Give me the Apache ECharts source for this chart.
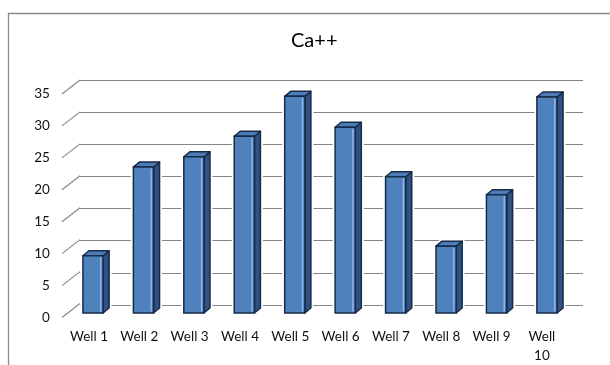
<!DOCTYPE html>
<html>
<head>
<meta charset="utf-8">
<script src="https://cdn.jsdelivr.net/npm/echarts@6/dist/echarts.min.js"></script>
<style>
  html, body { margin: 0; padding: 0; background: #ffffff; }
  #chart { width: 610px; height: 365px; }
</style>
</head>
<body>
<div id="chart"></div>
<script>
// Calcium concentration per well
const chartTitle = 'Ca++';
const categories = ['Well 1', 'Well 2', 'Well 3', 'Well 4', 'Well 5', 'Well 6', 'Well 7', 'Well 8', 'Well 9', 'Well 10'];
const calcium = [8.9, 22.7, 24.3, 27.5, 33.7, 28.9, 21.2, 10.4, 18.4, 33.6];
const yTicks = [0, 5, 10, 15, 20, 25, 30, 35];

const FONT = 'Lato, "Open Sans", sans-serif';
const TEXT = '#111111';
const GRID = '#858585';

// depth offsets of the 3D look
const WALL_DX = 18, WALL_DY = -14;   // front label plane -> back wall
const BOX_DX = 6, BOX_DY = -5;       // column depth

const chart = echarts.init(document.getElementById('chart'), null, { renderer: 'canvas' });

const option = {
  backgroundColor: '#ffffff',
  animation: false,
  title: {
    text: chartTitle,
    left: 291,
    top: 31,
    padding: 0,
    textStyle: { fontFamily: FONT, fontSize: 20, fontWeight: 'normal', color: '#000000' }
  },
  graphic: [{
    type: 'polyline',
    shape: { points: [[8.5, 365], [8.5, 13.5], [610, 13.5]] },
    style: { stroke: '#8a8a8a', lineWidth: 1.3, fill: null },
    silent: true
  }],
  grid: [
    // front plane: axis labels
    { left: 63.8, top: 94, width: 503.3, height: 225 },
    // back wall: gridlines
    { left: 80, top: 80, width: 503, height: 225 },
    // column plane
    { left: 67.8, top: 88, width: 504.4, height: 225 }
  ],
  xAxis: [
    {
      gridIndex: 0, type: 'category', data: categories,
      axisLine: { show: false }, axisTick: { show: false },
      axisLabel: {
        margin: 9.5, fontFamily: FONT, fontSize: 13.5, lineHeight: 19, color: TEXT,
        formatter: v => (v.length > 6 ? v.replace(' ', '\n') : v)
      }
    },
    { gridIndex: 1, type: 'category', data: categories, show: false },
    { gridIndex: 2, type: 'category', data: categories, show: false }
  ],
  yAxis: [
    {
      gridIndex: 0, type: 'value', min: 0, max: 35, interval: 5,
      axisLine: { show: false }, axisTick: { show: false }, splitLine: { show: false },
      axisLabel: { margin: 14, fontFamily: FONT, fontSize: 13.5, color: TEXT }
    },
    {
      gridIndex: 1, type: 'value', min: 0, max: 35, interval: 5,
      axisLine: { show: false }, axisTick: { show: false }, axisLabel: { show: false },
      splitLine: { show: true, lineStyle: { color: GRID, width: 1.2 } }
    },
    {
      gridIndex: 2, type: 'value', min: 0, max: 35, interval: 5, show: false,
      splitLine: { show: false }
    }
  ],
  series: [
    {
      // slanted side-wall ticks linking labels to the back gridlines
      type: 'custom',
      xAxisIndex: 0, yAxisIndex: 0,
      silent: true,
      data: yTicks.map(v => [0, v]),
      renderItem: (params, api) => {
        const p = api.coord([0, api.value(1)]);
        const x0 = params.coordSys.x - 1.8;
        return {
          type: 'line',
          shape: { x1: x0, y1: p[1], x2: x0 + WALL_DX, y2: p[1] + WALL_DY },
          style: { stroke: GRID, lineWidth: 1.1 }
        };
      }
    },
    {
      type: 'custom',
      xAxisIndex: 2, yAxisIndex: 2,
      data: calcium.map((v, i) => [i, v]),
      renderItem: (params, api) => {
        const base = api.coord([api.value(0), 0]);
        const top = api.coord([api.value(0), api.value(1)]);
        const w = api.size([1, 0])[0] * 0.4;
        const x0 = base[0] - w / 2, x1 = base[0] + w / 2;
        const yb = base[1], yt = top[1];
        const dx = BOX_DX, dy = BOX_DY;
        const edge = '#172b48';
        const lw = 1.5;
        return {
          type: 'group',
          children: [
            {
              type: 'polygon',
              shape: { points: [[x0, yb], [x0, yt], [x0 + dx, yt + dy], [x1 + dx, yt + dy], [x1 + dx, yb + dy], [x1, yb]] },
              style: { fill: '#ffffff', stroke: '#ffffff', lineWidth: 5, lineJoin: 'round' }
            },
            {
              type: 'polygon',
              shape: { points: [[x1, yt], [x1 + dx, yt + dy], [x1 + dx, yb + dy], [x1, yb]] },
              style: { fill: '#2f5283', stroke: edge, lineWidth: lw, lineJoin: 'round' }
            },
            {
              type: 'polygon',
              shape: { points: [[x0, yt], [x0 + dx, yt + dy], [x1 + dx, yt + dy], [x1, yt]] },
              style: { fill: '#4d7bb5', stroke: edge, lineWidth: lw, lineJoin: 'round' }
            },
            {
              type: 'rect',
              shape: { x: x0, y: yt, width: w, height: yb - yt },
              style: { fill: '#4f81bd', stroke: edge, lineWidth: lw }
            },
            {
              type: 'line',
              shape: { x1: x1 - 2.4, y1: yt + 1.5, x2: x1 - 2.4, y2: yb - 1.5 },
              style: { stroke: '#93b7e6', lineWidth: 1.4 }
            }
          ]
        };
      }
    }
  ]
};

chart.setOption(option);
</script>
</body>
</html>
